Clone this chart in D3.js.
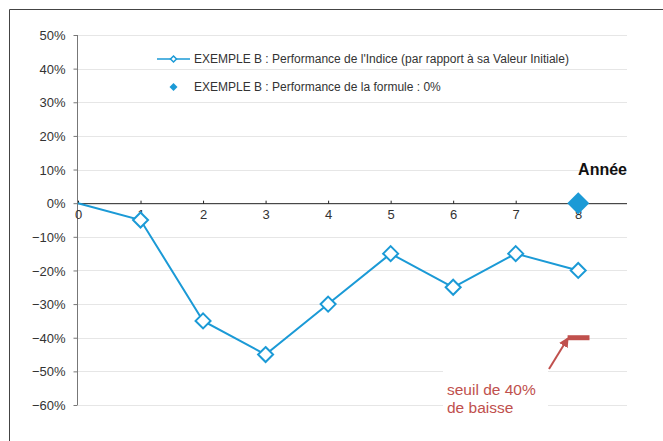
<!DOCTYPE html>
<meta charset="utf-8">
<style>
body { margin: 0; background: #fff; }
text { font-family: Arial, "Liberation Sans", sans-serif; }
.grid line { stroke: #e6e6e6; stroke-width: 1px; }
.tick text { fill: #333; font-size: 13px; }
</style>
<svg width="663" height="441"></svg>
<script src="https://d3js.org/d3.v7.min.js"></script>
<script>

var years = [0, 1, 2, 3, 4, 5, 6, 7, 8];
var perf = [0, -0.05, -0.35, -0.45, -0.30, -0.15, -0.25, -0.15, -0.20];
var formule = [{year: 8, value: 0}];
var yTicks = [0.5, 0.4, 0.3, 0.2, 0.1, 0, -0.1, -0.2, -0.3, -0.4, -0.5, -0.6];
var seuil = -0.40;
var legendLabels = [
  "EXEMPLE B : Performance de l'Indice (par rapport à sa Valeur Initiale)",
  "EXEMPLE B : Performance de la formule : 0%"
];
var blue = "#1b9ad6",
    red = "#c0504d";

var svg = d3.select("svg");

// outer frame, cut by the window on right and bottom
svg.append("path")
    .attr("d", "M9.5,441V9.5H663")
    .attr("fill", "none")
    .attr("stroke", "#444")
    .attr("stroke-width", 1);

var x = d3.scaleLinear().domain([0, 8.78]).range([78, 627]);
var y = d3.scaleLinear().domain([-0.6, 0.5]).range([405, 35]);

// gridlines
svg.append("g")
    .attr("class", "grid")
  .selectAll("line")
  .data(yTicks.filter(function(d) { return d !== 0; }))
  .enter().append("line")
    .attr("x1", x(0)).attr("x2", x(8.78))
    .attr("y1", function(d) { return Math.round(y(d)) + 0.5; })
    .attr("y2", function(d) { return Math.round(y(d)) + 0.5; });

// y axis
var yAxis = svg.append("g")
    .attr("transform", "translate(" + (x(0) - 0.5) + ",0)")
    .call(d3.axisLeft(y).tickValues(yTicks).tickSize(4).tickPadding(8)
      .tickFormat(d3.format(".0%")));
yAxis.select(".domain").attr("stroke", "#777").attr("d", "M0," + y(0.5) + "V" + y(-0.6));
yAxis.selectAll(".tick line").attr("stroke", "#777");
yAxis.selectAll(".tick text").attr("dy", "0.35em");

// x axis (on 0%)
var xAxis = svg.append("g")
    .attr("transform", "translate(0," + (y(0) + 0.5) + ")")
    .call(d3.axisBottom(x).tickValues(years).tickSize(-3).tickPadding(6)
      .tickFormat(d3.format("d")));
xAxis.select(".domain").attr("stroke", "#222").attr("d", "M" + x(0) + ",0H" + x(8.78));
xAxis.selectAll(".tick line").attr("stroke", "#222");

// axis title
svg.append("text")
    .attr("x", 627).attr("y", 175)
    .attr("text-anchor", "end")
    .attr("font-size", 16).attr("font-weight", "bold")
    .attr("fill", "#111")
    .text("Année");

// performance line
var line = d3.line()
    .x(function(d, i) { return x(years[i]); })
    .y(function(d) { return y(d); });

svg.append("path")
    .datum(perf)
    .attr("fill", "none")
    .attr("stroke", blue)
    .attr("stroke-width", 2)
    .attr("d", line);

var diamond = function(r) { return "M0," + (-r) + "L" + r + ",0L0," + r + "L" + (-r) + ",0Z"; };

svg.append("g")
  .selectAll("path")
  .data(perf.map(function(d, i) { return {year: years[i], value: d}; }).filter(function(d) { return d.year > 0; }))
  .enter().append("path")
    .attr("transform", function(d) { return "translate(" + x(d.year) + "," + y(d.value) + ")"; })
    .attr("d", diamond(7.5))
    .attr("fill", "#fff")
    .attr("stroke", blue)
    .attr("stroke-width", 2);

// formule marker
svg.append("g")
  .selectAll("path")
  .data(formule)
  .enter().append("path")
    .attr("transform", function(d) { return "translate(" + x(d.year) + "," + y(d.value) + ")"; })
    .attr("d", diamond(11))
    .attr("fill", blue);

// legend
var legend = svg.append("g");
legend.append("line")
    .attr("x1", 157).attr("x2", 190).attr("y1", 59).attr("y2", 59)
    .attr("stroke", blue).attr("stroke-width", 1.5);
legend.append("path")
    .attr("transform", "translate(173.5,59)")
    .attr("d", diamond(3))
    .attr("fill", "#fff").attr("stroke", blue).attr("stroke-width", 1.5);
legend.append("path")
    .attr("transform", "translate(173.5,87)")
    .attr("d", diamond(4))
    .attr("fill", blue);
legend.selectAll("text")
  .data(legendLabels)
  .enter().append("text")
    .attr("x", 194)
    .attr("y", function(d, i) { return 59 + i * 28; })
    .attr("dy", "0.35em")
    .attr("font-size", 12)
    .attr("fill", "#333")
    .text(function(d) { return d; });

// seuil annotation
svg.append("line")
    .attr("x1", x(7.83)).attr("x2", x(8.18))
    .attr("y1", y(seuil)).attr("y2", y(seuil))
    .attr("stroke", red).attr("stroke-width", 5);

svg.append("rect")
    .attr("x", 443).attr("y", 370).attr("width", 105).attr("height", 46)
    .attr("fill", "#fff");

svg.append("defs").append("marker")
    .attr("id", "arrow")
    .attr("viewBox", "0 0 10 10")
    .attr("refX", 8).attr("refY", 5)
    .attr("markerWidth", 5).attr("markerHeight", 5)
    .attr("orient", "auto")
  .append("path")
    .attr("d", "M0,0L10,5L0,10Z")
    .attr("fill", red);

svg.append("line")
    .attr("x1", 549).attr("y1", 369)
    .attr("x2", x(7.83)).attr("y2", y(seuil) + 1)
    .attr("stroke", red).attr("stroke-width", 2)
    .attr("marker-end", "url(#arrow)");

svg.append("text")
    .attr("x", 447).attr("y", 395)
    .attr("font-size", 15.5).attr("fill", red)
    .text("seuil de 40%");
svg.append("text")
    .attr("x", 447).attr("y", 413)
    .attr("font-size", 15.5).attr("fill", red)
    .text("de baisse");

</script>
